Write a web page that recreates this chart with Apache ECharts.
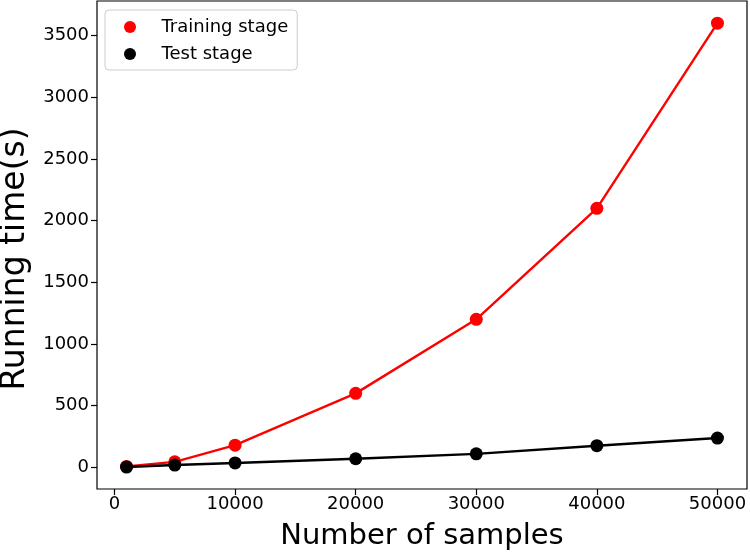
<!DOCTYPE html>
<html>
<head>
<meta charset="utf-8">
<script src="https://cdn.jsdelivr.net/npm/echarts@6/dist/echarts.min.js"></script>
<style>
html,body{margin:0;padding:0;background:#fff;}
#chart{width:750px;height:555px;}
</style>
</head>
<body>
<div id="chart"></div>
<script>
const samples = [1000, 5000, 10000, 20000, 30000, 40000, 50000];
const trainingTime = [8, 45, 180, 600, 1200, 2100, 3600];
const testTime = [3, 19, 36, 70, 110, 176, 238];
const xTicks = [0, 10000, 20000, 30000, 40000, 50000];
const yTicks = [0, 500, 1000, 1500, 2000, 2500, 3000, 3500];
const seriesNames = ['Training stage', 'Test stage'];
const xTitle = 'Number of samples';
const yTitle = 'Running time(s)';

const FONT = 'DejaVu Sans';
const chart = echarts.init(document.getElementById('chart'), null, {renderer: 'canvas'});

function pairs(xs, ys) { return xs.map((x, i) => [x, ys[i]]); }

chart.setOption({
  animation: false,
  backgroundColor: '#ffffff',
  textStyle: {fontFamily: FONT},
  grid: {
    left: 97, right: 3, top: 1, bottom: 66,
    containLabel: false,
    outerBoundsMode: 'none',
    show: true, borderColor: '#000', borderWidth: 1.2, backgroundColor: 'transparent'
  },
  legend: {
    orient: 'vertical',
    left: 105, top: 10,
    icon: 'circle',
    itemWidth: 53, itemHeight: 12,
    itemGap: 9,
    padding: [8, 9, 7, 19],
    backgroundColor: '#fff',
    borderColor: '#cccccc',
    borderWidth: 1,
    borderRadius: 4,
    textStyle: {fontFamily: FONT, fontSize: 18, color: '#000', lineHeight: 17},
    data: seriesNames
  },
  graphic: [{
    type: 'text',
    x: 15, y: 259,
    rotation: Math.PI / 2,
    style: {
      text: yTitle,
      fontFamily: FONT, fontSize: 33, fill: '#000',
      align: 'center', verticalAlign: 'middle'
    }
  }],
  xAxis: {
    type: 'value',
    min: -1450, max: 52450,
    splitLine: {show: false},
    axisLine: {show: false, onZero: false},
    axisTick: {show: true, length: 6, lineStyle: {color: '#000', width: 1.2}, customValues: xTicks},
    axisLabel: {color: '#000', fontFamily: FONT, fontSize: 18, margin: 6, customValues: xTicks,
      formatter: v => String(v)},
    name: xTitle,
    nameLocation: 'middle',
    nameGap: 33,
    nameTextStyle: {fontFamily: FONT, fontSize: 29, color: '#000'}
  },
  yAxis: {
    type: 'value',
    min: -175, max: 3780,
    splitLine: {show: false},
    axisLine: {show: false, onZero: false},
    axisTick: {show: true, length: 6, lineStyle: {color: '#000', width: 1.2}, customValues: yTicks},
    axisLabel: {color: '#000', fontFamily: FONT, fontSize: 18, margin: 8, customValues: yTicks,
      formatter: v => String(v)}
  },
  series: [
    {
      name: seriesNames[0], type: 'line',
      data: pairs(samples, trainingTime),
      symbol: 'circle', symbolSize: 13,
      lineStyle: {color: '#ff0000', width: 2.4},
      itemStyle: {color: '#ff0000'},
      z: 2
    },
    {
      name: seriesNames[1], type: 'line',
      data: pairs(samples, testTime),
      symbol: 'circle', symbolSize: 13,
      lineStyle: {color: '#000000', width: 2.4},
      itemStyle: {color: '#000000'},
      z: 3
    }
  ]
});
</script>
</body>
</html>
